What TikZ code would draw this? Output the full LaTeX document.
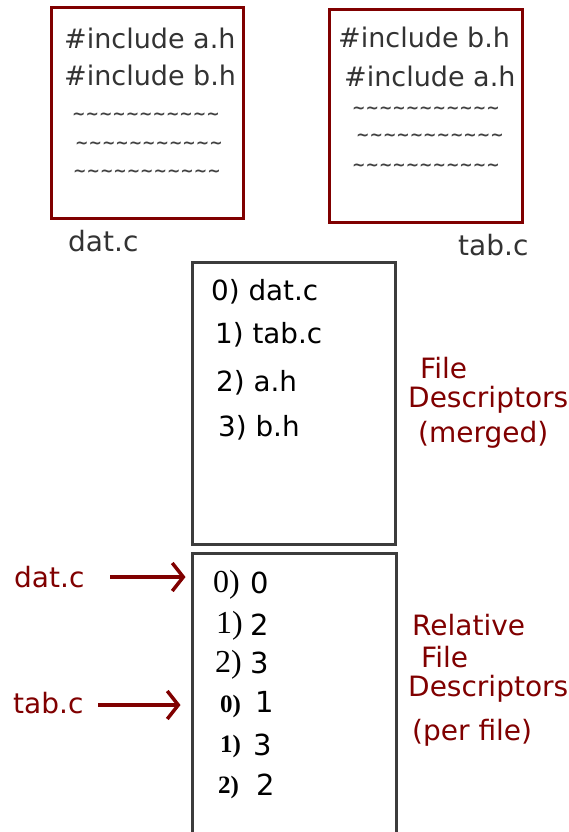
\documentclass[tikz,border=0pt]{standalone}
\usepackage{fontspec}
\setmainfont{DejaVu Sans}
\newfontfamily\serf{Liberation Serif}
\usetikzlibrary{arrows.meta}
\definecolor{dred}{RGB}{128,0,0}
\definecolor{dgray}{RGB}{60,60,60}
\newcommand\mytilderow{\textasciitilde\textasciitilde\textasciitilde\textasciitilde\textasciitilde\textasciitilde\textasciitilde\textasciitilde\textasciitilde\textasciitilde\textasciitilde}
\begin{document}
\begin{tikzpicture}[x=1pt,y=-1pt,
 filebox/.style={draw=dred,line width=3pt,inner sep=0pt},
 tblbox/.style={draw=dgray,line width=3pt,inner sep=0pt},
 code/.style={font=\fontsize{27}{27}\selectfont,anchor=west,inner sep=0pt,text=black!80},
 tild/.style={font=\bfseries\fontsize{16}{16}\selectfont,anchor=west,inner sep=0pt,text=black!75},
 fname/.style={font=\fontsize{28}{28}\selectfont,anchor=west,inner sep=0pt,text=black!80},
 entry/.style={font=\fontsize{27.8}{27.8}\selectfont,anchor=west,inner sep=0pt,text=black},
 idx/.style={font=\serf\fontsize{32}{32}\selectfont,anchor=west,inner sep=0pt,text=black},
 idxs/.style={font=\serf\bfseries\fontsize{25}{25}\selectfont,anchor=west,inner sep=0pt,text=black},
 val/.style={font=\fontsize{29}{29}\selectfont,anchor=west,inner sep=0pt,text=black},
 rlab/.style={font=\fontsize{28}{28}\selectfont,anchor=west,inner sep=0pt,text=dred},
 redarrow/.style={draw=dred,line width=3.5pt,-{Straight Barb[length=11pt,width=28pt,line width=3.5pt]}}
]
\useasboundingbox (0,0) rectangle (569,832);
% file boxes
\node[filebox,minimum width=192pt,minimum height=210pt] (datbox) at (147,113) {};
\node[filebox,minimum width=193pt,minimum height=212pt] (tabbox) at (425.5,116) {};
\node[code] (d1) at (64,38) {\#include a.h};
\node[code] (d2) at (64,75) {\#include b.h};
\node[tild] (d3) at (72,116) {\mytilderow};
\node[tild] (d4) at (75,145) {\mytilderow};
\node[tild] (d5) at (73,173) {\mytilderow};
\node[code] (t1) at (338,37) {\#include b.h};
\node[code] (t2) at (344,76) {\#include a.h};
\node[tild] (t3) at (352,110) {\mytilderow};
\node[tild] (t4) at (356,137) {\mytilderow};
\node[tild] (t5) at (352,167) {\mytilderow};
\node[fname] (datname) at (68,241) {dat.c};
\node[fname] (tabname) at (458,245) {tab.c};
% merged table
\node[tblbox,minimum width=203pt,minimum height=282pt] (mergebox) at (293.5,403) {};
\node[entry] (m0) at (211,292) {0) dat.c};
\node[entry] (m1) at (215,335) {1) tab.c};
\node[entry] (m2) at (216,383) {2) a.h};
\node[entry] (m3) at (218,428) {3) b.h};
\node[rlab] (fd1) at (420,368) {File};
\node[rlab] (fd2) at (408,400) {Descriptors};
\node[rlab] (fd3) at (418,435) {(merged)};
% relative table
\node[tblbox,minimum width=204pt,minimum height=287pt] (relbox) at (294,696.5) {};
\node[idx] (r0i) at (213,585) {0)};
\node[val] (r0v) at (250,583) {0};
\node[idx] (r1i) at (216,626) {1)};
\node[val] (r1v) at (250,625) {2};
\node[idx] (r2i) at (215,665) {2)};
\node[val] (r2v) at (250,663) {3};
\node[idxs] (r3i) at (220,706) {0)};
\node[val] (r3v) at (255,702) {1};
\node[idxs] (r4i) at (220,746) {1)};
\node[val] (r4v) at (253,745) {3};
\node[idxs] (r5i) at (218,787) {2)};
\node[val] (r5v) at (256,785) {2};
\node[rlab] (rl1) at (412,625) {Relative};
\node[rlab] (rl2) at (421,657) {File};
\node[rlab] (rl3) at (408,689) {Descriptors};
\node[rlab] (rl4) at (412,733) {(per file)};
% arrows
\node[rlab] (ldat) at (14,577) {dat.c};
\node[rlab] (ltab) at (13,703) {tab.c};
\coordinate (adat) at (110,577);
\coordinate (atab) at (98,705);
\draw[redarrow,shorten >=5pt] (adat) -- (adat -| relbox.west);
\draw[redarrow,shorten >=10pt] (atab) -- (atab -| relbox.west);
\end{tikzpicture}
\end{document}
